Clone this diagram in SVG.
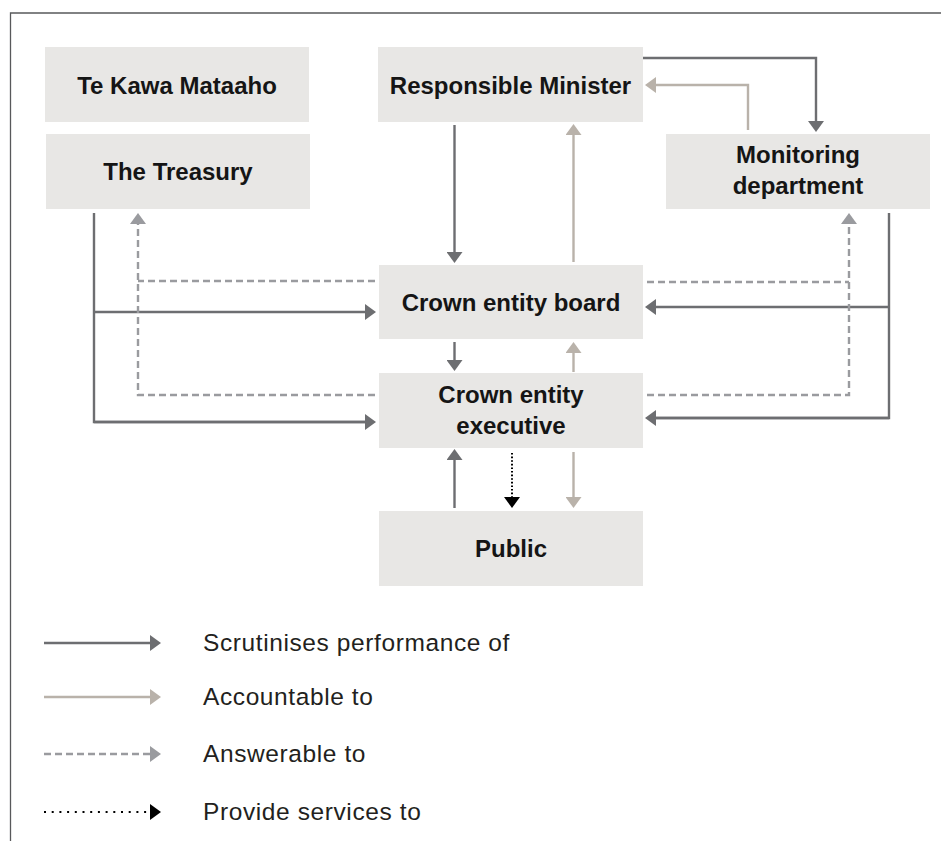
<svg xmlns="http://www.w3.org/2000/svg" width="941" height="841" viewBox="0 0 941 841">
<style>
.box{fill:#e8e7e5}
.nt{font-family:"Liberation Sans",Arial,sans-serif;font-weight:bold;font-size:24px;fill:#151515;text-anchor:middle}
.lt{font-family:"Liberation Sans",Arial,sans-serif;font-size:24.5px;letter-spacing:0.6px;fill:#231f20}
.c{fill:none;stroke-width:2.4}
.dk{stroke:#6d6e71;marker-end:url(#ad)}
.lg{stroke:#b9b2aa;marker-end:url(#al)}
.ds{stroke:#9a9b9f;stroke-dasharray:7 4}
.dsa{marker-end:url(#as)}
.dt{stroke:#000;stroke-width:2;marker-end:url(#at)}
</style>
<defs>
<marker id="ad" viewBox="0 0 11 16" markerWidth="11" markerHeight="16" refX="1" refY="8" orient="auto" markerUnits="userSpaceOnUse"><path d="M0,0 L11,8 L0,16z" fill="#6d6e71"/></marker>
<marker id="al" viewBox="0 0 11 16" markerWidth="11" markerHeight="16" refX="1" refY="8" orient="auto" markerUnits="userSpaceOnUse"><path d="M0,0 L11,8 L0,16z" fill="#b9b2aa"/></marker>
<marker id="as" viewBox="0 0 11 16" markerWidth="11" markerHeight="16" refX="1" refY="8" orient="auto" markerUnits="userSpaceOnUse"><path d="M0,0 L11,8 L0,16z" fill="#9a9b9f"/></marker>
<marker id="at" viewBox="0 0 11 16" markerWidth="11" markerHeight="16" refX="1" refY="8" orient="auto" markerUnits="userSpaceOnUse"><path d="M0,0 L11,8 L0,16z" fill="#000"/></marker>
</defs>
<rect width="941" height="841" fill="#fff"/>
<path d="M10.5,841 V13 H941" fill="none" stroke="#58595b" stroke-width="1.3"/>

<g id="te-kawa-mataaho"><rect class="box" x="45" y="47" width="264" height="75"/><text class="nt" x="177" y="93.5">Te Kawa Mataaho</text></g>
<g id="treasury"><rect class="box" x="46" y="134" width="264" height="75"/><text class="nt" x="178" y="180">The Treasury</text></g>
<g id="responsible-minister"><rect class="box" x="378" y="47" width="265" height="75"/><text class="nt" x="510.5" y="93.5">Responsible Minister</text></g>
<g id="monitoring-department"><rect class="box" x="666" y="134" width="264" height="75"/><text class="nt" x="798" y="163">Monitoring</text><text class="nt" x="798" y="194">department</text></g>
<g id="crown-entity-board"><rect class="box" x="379" y="265" width="264" height="74"/><text class="nt" x="511" y="311">Crown entity board</text></g>
<g id="crown-entity-executive"><rect class="box" x="379" y="373" width="264" height="75"/><text class="nt" x="511" y="403">Crown entity</text><text class="nt" x="511" y="434">executive</text></g>
<g id="public"><rect class="box" x="379" y="511" width="264" height="75"/><text class="nt" x="511" y="557">Public</text></g>

<g id="connectors">
<path class="c dk" d="M643,58 H816 V122"/>
<path class="c lg" d="M748,130 V85 H655"/>
<path class="c dk" d="M454.5,125 V253"/>
<path class="c lg" d="M573.5,262 V134"/>
<path class="c dk" d="M454.5,342 V361"/>
<path class="c lg" d="M573.5,372 V352"/>
<path class="c lg" d="M573.5,452 V498"/>
<path class="c dk" d="M454.5,508 V459"/>
<path class="c dt" d="M512,453 V498" stroke-dasharray="1.6 2"/>
<path class="c" stroke="#6d6e71" d="M94,213 V422 H366"/>
<path class="c dk" d="M94,422 H366"/>
<path class="c dk" d="M94,312 H366"/>
<path class="c ds dsa" d="M375,395 H138 V223"/>
<path class="c ds" d="M375,281 H138"/>
<path class="c" stroke="#6d6e71" d="M889,213 V418 H655"/>
<path class="c dk" d="M889,418 H655"/>
<path class="c dk" d="M889,307 H655"/>
<path class="c ds dsa" d="M647,395 H849 V223"/>
<path class="c ds" d="M647,282 H849"/>
</g>

<g id="legend">
<path class="c dk" d="M44,643 H151"/>
<text class="lt" x="203" y="651">Scrutinises performance of</text>
<path class="c lg" d="M44,697 H151"/>
<text class="lt" x="203" y="705">Accountable to</text>
<path class="c ds dsa" d="M44,754 H151"/>
<text class="lt" x="203" y="762">Answerable to</text>
<path class="c dt" d="M44,812 H151" stroke-dasharray="2 5.7"/>
<text class="lt" x="203" y="820">Provide services to</text>
</g>
</svg>
